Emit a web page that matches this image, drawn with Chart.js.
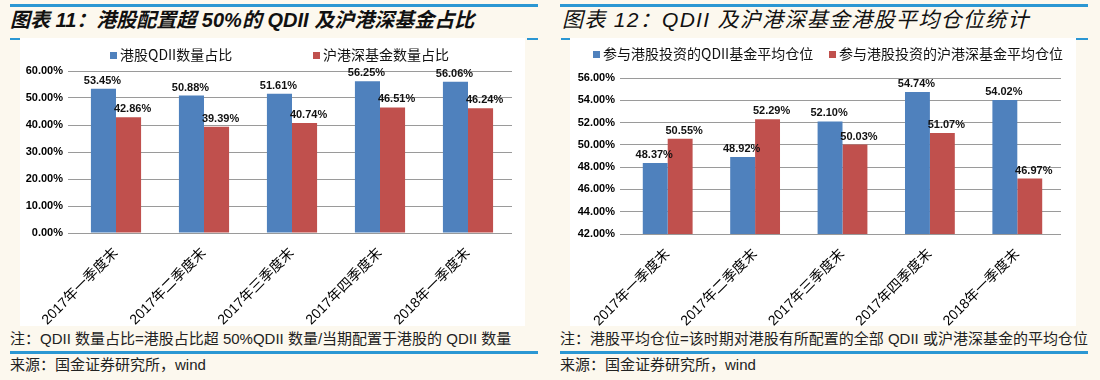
<!DOCTYPE html>
<html>
<head>
<meta charset="utf-8">
<script src="https://cdn.jsdelivr.net/npm/chart.js@4/dist/chart.umd.min.js"></script>
<style>
  body { margin: 0; width: 1100px; height: 380px; background: #fcf8ee; position: relative; overflow: hidden;
         font-family: "Liberation Sans", "Noto Sans CJK SC", sans-serif; }
  .rule { position: absolute; height: 3px; background: #2b97d3; }
  .mark { position: absolute; top: 38px; height: 2px; background: #2b97d3; }
  .title { position: absolute; top: 8px; font-size: 20px; line-height: 24px; font-style: italic; white-space: nowrap; color: #111; }
  .panel { position: absolute; top: 38px; height: 288px; background: #fff; }
  .note { position: absolute; font-size: 15px; line-height: 18px; white-space: nowrap; color: #222; }
</style>
</head>
<body>
<div class="rule" style="left:10px;width:528px;top:4px"></div>
<div class="rule" style="left:560px;width:528px;top:4px"></div>
<div class="title" style="left:10px;font-weight:bold">图表 11：港股配置超 50%的 QDII 及沪港深基金占比</div>
<div class="title" style="left:562px;font-size:21px;letter-spacing:1.3px">图表 12：QDII 及沪港深基金港股平均仓位统计</div>

<div class="mark" style="left:10px;width:10px"></div>
<div class="mark" style="left:527px;width:11px"></div>
<div class="mark" style="left:561px;width:9px"></div>
<div class="mark" style="left:1076px;width:12px"></div>

<div class="panel" style="left:20px;width:505px"><canvas id="left" width="505" height="288"></canvas></div>
<div class="panel" style="left:570px;width:506px"><canvas id="right" width="506" height="288"></canvas></div>

<div class="note" style="left:10px;top:330px">注：QDII 数量占比=港股占比超 50%QDII 数量/当期配置于港股的 QDII 数量</div>
<div class="note" style="left:560px;top:330px">注：港股平均仓位=该时期对港股有所配置的全部 QDII 或沪港深基金的平均仓位</div>
<div class="rule" style="left:10px;width:528px;top:351px"></div>
<div class="rule" style="left:560px;width:528px;top:351px"></div>
<div class="note" style="left:10px;top:356px">来源：国金证券研究所，wind</div>
<div class="note" style="left:560px;top:356px">来源：国金证券研究所，wind</div>

<script>
const quarters = ['2017年一季度末', '2017年二季度末', '2017年三季度末', '2017年四季度末', '2018年一季度末'];

// 图表 11
const countNames = ['港股QDII数量占比', '沪港深基金数量占比'];
const qdiiCountShare = [53.45, 50.88, 51.61, 56.25, 56.06];
const hkFundCountShare = [42.86, 39.39, 40.74, 46.51, 46.24];

// 图表 12
const positionNames = ['参与港股投资的QDII基金平均仓位', '参与港股投资的沪港深基金平均仓位'];
const qdiiAvgPosition = [48.37, 48.92, 52.10, 54.74, 54.02];
const hkFundAvgPosition = [50.55, 52.29, 50.03, 51.07, 46.97];

const BLUE = '#4f81bd';
const RED = '#c0504d';
const GRID = '#9a9a9a';

const valueLabels = {
    id: 'valueLabels',
    afterDatasetsDraw(chart) {
        const ctx = chart.ctx;
        ctx.save();
        ctx.font = 'bold 11px "Liberation Sans", Arial, sans-serif';
        ctx.fillStyle = '#111';
        ctx.textAlign = 'center';
        ctx.textBaseline = 'middle';
        chart.data.datasets.forEach((ds, i) => {
            const shift = i === 0 ? -1 : 4;
            chart.getDatasetMeta(i).data.forEach((bar, j) => {
                ctx.fillText(ds.data[j].toFixed(2) + '%', bar.x + shift, bar.y - 8);
            });
        });
        ctx.restore();
    }
};

const boxLegend = {
    id: 'boxLegend',
    afterDraw(chart, args, opts) {
        const ctx = chart.ctx;
        ctx.save();
        ctx.font = '14px "Noto Sans CJK SC", sans-serif';
        ctx.textBaseline = 'middle';
        ctx.textAlign = 'left';
        chart.data.datasets.forEach((ds, i) => {
            const x = opts.x[i];
            ctx.fillStyle = ds.backgroundColor;
            ctx.fillRect(x, opts.y - 3, 7, 7);
            ctx.fillStyle = '#111';
            ctx.fillText(ds.label, x + 10, opts.y);
        });
        ctx.restore();
    }
};

function makeChart(id, names, series, yMin, yMax, step, lay) {
    return new Chart(document.getElementById(id), {
        type: 'bar',
        data: {
            labels: quarters,
            datasets: series.map((d, i) => ({
                label: names[i],
                data: d,
                backgroundColor: i === 0 ? BLUE : RED,
                borderWidth: 0,
                categoryPercentage: 0.57,
                barPercentage: 1.0
            }))
        },
        options: {
            responsive: false,
            animation: false,
            layout: { padding: { top: lay.top, right: lay.right, left: 0, bottom: 0 } },
            scales: {
                x: {
                    grid: { display: false },
                    border: { display: false },
                    ticks: {
                        minRotation: 45, maxRotation: 45, autoSkip: false, padding: 4,
                        color: '#000',
                        font: { family: '"Liberation Sans", "Noto Sans CJK SC", sans-serif', size: 14 }
                    },
                    afterFit(scale) { scale.height = lay.xh; }
                },
                y: {
                    min: yMin, max: yMax,
                    border: { display: false },
                    grid: { color: GRID, lineWidth: 1, tickLength: 4 },
                    ticks: {
                        stepSize: step, padding: 5, color: '#000',
                        font: { family: '"Liberation Sans", Arial, sans-serif', size: 11, weight: 'bold' },
                        callback: v => v.toFixed(2) + '%'
                    },
                    afterFit(scale) { scale.width = lay.yw; }
                }
            },
            plugins: {
                legend: { display: false },
                tooltip: { enabled: false },
                boxLegend: { x: lay.legendX, y: lay.legendY }
            }
        },
        plugins: [valueLabels, boxLegend]
    });
}

makeChart('left', countNames, [qdiiCountShare, hkFundCountShare], 0, 60, 10,
    { top: 33, right: 13, xh: 93, yw: 52, legendX: [90, 293], legendY: 17 });
makeChart('right', positionNames, [qdiiAvgPosition, hkFundAvgPosition], 42, 56, 2,
    { top: 40, right: 15, xh: 92, yw: 54, legendX: [23, 259], legendY: 16 });
</script>
</body>
</html>
